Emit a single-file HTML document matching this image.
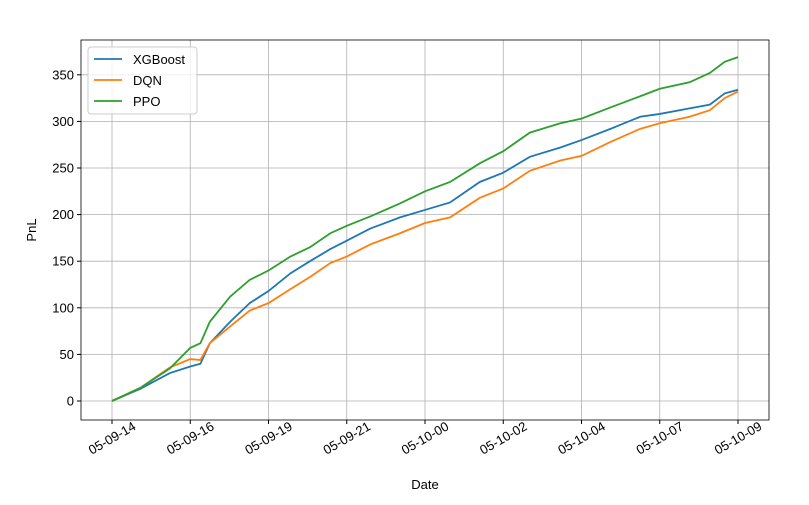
<!DOCTYPE html>
<html><head><meta charset="utf-8"><style>
body{margin:0;background:#fff;font-family:"Liberation Sans",sans-serif}
svg text{font-family:"Liberation Sans",sans-serif;font-size:13px;fill:#000}
</style></head><body>
<svg id="c" width="809" height="500"></svg>
<script>
const xTickLabels=["05-09-14","05-09-16","05-09-19","05-09-21","05-10-00","05-10-02","05-10-04","05-10-07","05-10-09"];
const yTicks=[0,50,100,150,200,250,300,350];
const times=[0,0.36,0.74,1,1.13,1.25,1.51,1.76,2,2.28,2.53,2.79,3,3.3,3.68,4,4.32,4.7,5,5.34,5.73,6,6.37,6.75,7,7.38,7.64,7.83,8];
const ppo=[0,14,35,57,62,85,112,130,140,155,165,180,188,198,212,225,235,255,268,288,298,303,315,327,335,342,352,364,369];
const xgb=[0,13,30,37,40,62,85,105,118,137,150,163,172,185,197,205,213,235,245,262,272,280,292,305,308,314,318,330,334];
const dqn=[0,14,36,45,44,62,80,97,105,120,133,148,155,168,180,191,197,218,228,247,258,263,278,292,298,305,312,325,332];
const L=81,R=769,T=40,B=420;
const xs=t=>112+t*78.25;
const ys=v=>401-v*0.932;
const svg=document.getElementById('c');const NS='http://www.w3.org/2000/svg';
function mk(tag,a,p){const e=document.createElementNS(NS,tag);for(const k in a)e.setAttribute(k,a[k]);(p||svg).appendChild(e);return e;}
xTickLabels.forEach((lab,i)=>{const x=xs(i);
const g=mk('line',{x1:x,x2:x,y1:T,y2:B,stroke:'#b0b0b0','stroke-width':0.8});

mk('line',{x1:x,x2:x,y1:B,y2:B+4,stroke:'#000'});
const t=mk('text',{x:0,y:0,'text-anchor':'middle','dominant-baseline':'central',transform:`translate(${x} ${B+18}) rotate(-30)`});
t.textContent=lab;});
yTicks.forEach(v=>{const y=ys(v);
const g=mk('line',{x1:L,x2:R,y1:y,y2:y,stroke:'#b0b0b0','stroke-width':0.8});

mk('line',{x1:L-4,x2:L,y1:y,y2:y,stroke:'#000'});
const t=mk('text',{x:L-7,y:y+4.5,'text-anchor':'end'});t.textContent=v;
});
const series=[["XGBoost",xgb,"#1f77b4"],["DQN",dqn,"#ff7f0e"],["PPO",ppo,"#2ca02c"]];
series.forEach(([n,d,c])=>{const p=mk('polyline',{points:d.map((v,i)=>xs(times[i])+','+ys(v)).join(' '),fill:'none',stroke:c,'stroke-width':1.8});
});
const fr=mk('rect',{x:L,y:T,width:R-L,height:B-T,fill:'none',stroke:'#000','stroke-width':0.8});

const lg=mk('g',{});
mk('rect',{x:88,y:47,width:109,height:67,rx:3,fill:'#fff','fill-opacity':0.8,stroke:'#ccc'},lg);
series.forEach(([n,d,c],i)=>{const y=59+i*21;
mk('line',{x1:94,x2:122,y1:y,y2:y,stroke:c,'stroke-width':1.8},lg);
const t=mk('text',{x:133,y:y+5},lg);t.textContent=n;});
const xt=mk('text',{x:425,y:489,'text-anchor':'middle'});xt.textContent='Date';
const yt=mk('text',{x:36,y:230,'text-anchor':'middle',transform:'rotate(-90 36 230)'});yt.textContent='PnL';
</script></body></html>
